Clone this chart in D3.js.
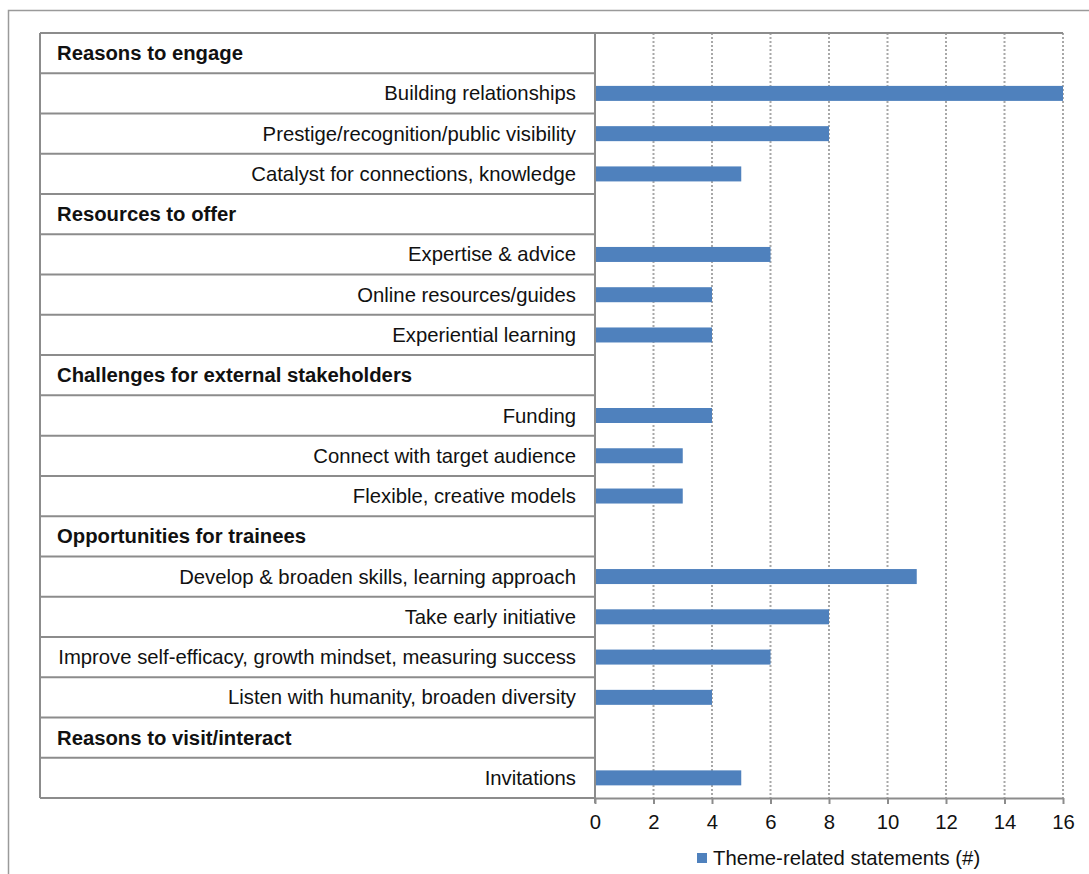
<!DOCTYPE html>
<html><head><meta charset="utf-8">
<script src="https://cdn.jsdelivr.net/npm/d3@7"></script>
<style>body{margin:0;background:#fff;} svg{display:block;font-family:"Liberation Sans",Arial,sans-serif;}</style>
</head><body>
<svg id="c" width="1089" height="874"></svg>
<script>
const rowLabels = ["Reasons to engage","Building relationships","Prestige/recognition/public visibility","Catalyst for connections, knowledge","Resources to offer","Expertise & advice","Online resources/guides","Experiential learning","Challenges for external stakeholders","Funding","Connect with target audience","Flexible, creative models","Opportunities for trainees","Develop & broaden skills, learning approach","Take early initiative","Improve self-efficacy, growth mindset, measuring success","Listen with humanity, broaden diversity","Reasons to visit/interact","Invitations"];
const isHeader = [true,false,false,false,true,false,false,false,true,false,false,false,true,false,false,false,false,true,false];
const values = [null,16,8,5,null,6,4,4,null,4,3,3,null,11,8,6,4,null,5];
const xTicks = [0,2,4,6,8,10,12,14,16];
const seriesName = "Theme-related statements (#)";

const svg = d3.select("#c");
const tableLeft = 40, axisX = 595, plotRight = 1063, plotTop = 33, plotBottom = 798;
const lineCol = "#8c8c8c";
const fs = 20.3;

// outer frame
svg.append("path").attr("d","M8.5,874 V10.5 H1089").attr("fill","none").attr("stroke","#9a9a9a").attr("stroke-width",1.5);

const x = d3.scaleLinear().domain([0,16]).range([axisX, plotRight]);
const y = d3.scaleBand().domain(d3.range(rowLabels.length)).range([plotTop, plotBottom]).padding(0);

// gridlines
svg.append("g").selectAll("line").data(xTicks.filter(d=>d>0)).join("line")
  .attr("x1",d=>x(d)).attr("x2",d=>x(d)).attr("y1",plotTop).attr("y2",plotBottom)
  .attr("stroke","#a8a8a8").attr("stroke-width",2).attr("stroke-dasharray","2,2");

// table row lines
svg.append("g").selectAll("line").data(d3.range(rowLabels.length+1)).join("line")
  .attr("x1",tableLeft).attr("x2",axisX)
  .attr("y1",i=> i<rowLabels.length ? y(i) : plotBottom)
  .attr("y2",i=> i<rowLabels.length ? y(i) : plotBottom)
  .attr("stroke",lineCol).attr("stroke-width",2);
// top line across plot
svg.append("line").attr("x1",tableLeft).attr("x2",plotRight).attr("y1",plotTop).attr("y2",plotTop).attr("stroke",lineCol).attr("stroke-width",2);
// left border
svg.append("line").attr("x1",tableLeft).attr("x2",tableLeft).attr("y1",plotTop).attr("y2",plotBottom).attr("stroke",lineCol).attr("stroke-width",2);

// bars
const bh = 15;
svg.append("g").selectAll("rect").data(values.map((v,i)=>({v,i})).filter(d=>d.v!==null)).join("rect")
  .attr("x",x(0)).attr("y",d=>y(d.i)+y.bandwidth()/2-bh/2)
  .attr("width",d=>x(d.v)-x(0)).attr("height",bh).attr("fill","#4f81bd");

// axis line
svg.append("line").attr("x1",axisX).attr("x2",axisX).attr("y1",plotTop).attr("y2",plotBottom+5).attr("stroke",lineCol).attr("stroke-width",2);
const ax = svg.append("g").attr("transform",`translate(0,${plotBottom})`)
  .call(d3.axisBottom(x).tickValues(xTicks).tickSize(6).tickSizeOuter(0).tickPadding(11));
ax.select(".domain").attr("stroke",lineCol).attr("stroke-width",2);
ax.selectAll(".tick line").attr("stroke",lineCol).attr("stroke-width",2);
ax.selectAll(".tick text").attr("font-size",fs).attr("fill","#111").attr("font-family","Liberation Sans, Arial, sans-serif");

// row labels
svg.append("g").selectAll("text").data(rowLabels.map((t,i)=>({t,i}))).join("text")
  .attr("x",d=>isHeader[d.i]?57:576)
  .attr("y",d=>y(d.i)+y.bandwidth()/2+7)
  .attr("text-anchor",d=>isHeader[d.i]?"start":"end")
  .attr("font-weight",d=>isHeader[d.i]?"bold":"normal")
  .attr("font-size",fs).attr("fill","#111")
  .text(d=>d.t);

// legend
svg.append("rect").attr("x",697).attr("y",853).attr("width",10).attr("height",10).attr("fill","#4f81bd");
svg.append("text").attr("x",713).attr("y",865).attr("font-size",fs).attr("fill","#111").text(seriesName);
</script>
</body></html>
